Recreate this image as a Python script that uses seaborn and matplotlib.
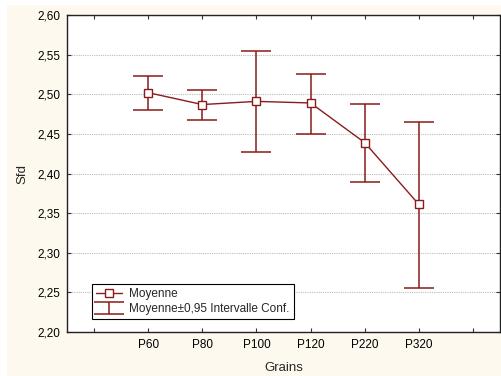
import matplotlib
matplotlib.use("Agg")
import matplotlib.pyplot as plt
import seaborn as sns
import pandas as pd
import numpy as np
from matplotlib.patches import Rectangle

categories = ["P60", "P80", "P100", "P120", "P220", "P320"]
means = [2.502, 2.487, 2.491, 2.489, 2.439, 2.361]
upper = [2.523, 2.505, 2.554, 2.526, 2.488, 2.465]
lower = [2.480, 2.468, 2.427, 2.450, 2.389, 2.255]
yticks = [2.20, 2.25, 2.30, 2.35, 2.40, 2.45, 2.50, 2.55, 2.60]

sns.set_theme(style="white")
plt.rcParams['font.family'] = ['Liberation Sans', 'DejaVu Sans']

color = "#8B1A1A"
pos = list(range(1, len(categories) + 1))
df = pd.DataFrame({"pos": pos, "Sfd": means, "cat": categories})

fig = plt.figure(figsize=(5.02, 3.76), dpi=100, facecolor="white")
fig.patches.append(Rectangle((7 / 502, 0), 1, 371 / 376, transform=fig.transFigure,
                             facecolor="#FDF9EE", edgecolor="none", zorder=-10))
ax = fig.add_axes([67 / 502, 44 / 376, 433 / 502, 317 / 376])
ax.set_facecolor("white")

err_lo = np.array(means) - np.array(lower)
err_hi = np.array(upper) - np.array(means)
eb = ax.errorbar(pos, means, yerr=[err_lo, err_hi], fmt="none", ecolor=color,
                 elinewidth=1.1, capsize=11, capthick=1.1, zorder=2,
                 label="Moyenne\u00b10,95 Intervalle Conf.")
sns.lineplot(data=df, x="pos", y="Sfd", ax=ax, color=color, linewidth=1.0,
             marker="s", markersize=5.5, markerfacecolor="white",
             markeredgecolor=color, markeredgewidth=1.0, zorder=3,
             label="Moyenne")

ax.set_xlim(-0.5, 7.5)
ax.set_ylim(2.20, 2.60)
ax.set_xticks(range(0, 8))
ax.set_xticklabels([""] + categories + [""])
ax.set_yticks(yticks)
ax.set_yticklabels([f"{v:.2f}".replace(".", ",") for v in yticks])
ax.yaxis.grid(True, linestyle=(0, (1, 1)), color="#BDBDBD", linewidth=0.8)
ax.xaxis.grid(False)
ax.tick_params(direction="in", length=3, width=0.8, colors="#333333",
               labelcolor="black", labelsize=8.5, top=True, right=True,
               bottom=True, left=True, pad=5)
for s in ax.spines.values():
    s.set_color("#222222")
    s.set_linewidth(1.0)
ax.set_xlabel("Grains", fontsize=9.5, labelpad=8)
ax.set_ylabel("Sfd", fontsize=9.5, labelpad=6)

handles, labels = ax.get_legend_handles_labels()
order = [labels.index("Moyenne"), labels.index("Moyenne\u00b10,95 Intervalle Conf.")]
leg = ax.legend([handles[i] for i in order], [labels[i] for i in order],
                loc="lower left", bbox_to_anchor=(0.058, 0.041), borderaxespad=0,
                fontsize=8.5, frameon=True, fancybox=False, framealpha=1,
                edgecolor="black", handlelength=2.2, handletextpad=0.6,
                borderpad=0.35, labelspacing=0.25)
leg.get_frame().set_linewidth(0.8)

fig.savefig("out.png", dpi=100, facecolor=fig.get_facecolor())
